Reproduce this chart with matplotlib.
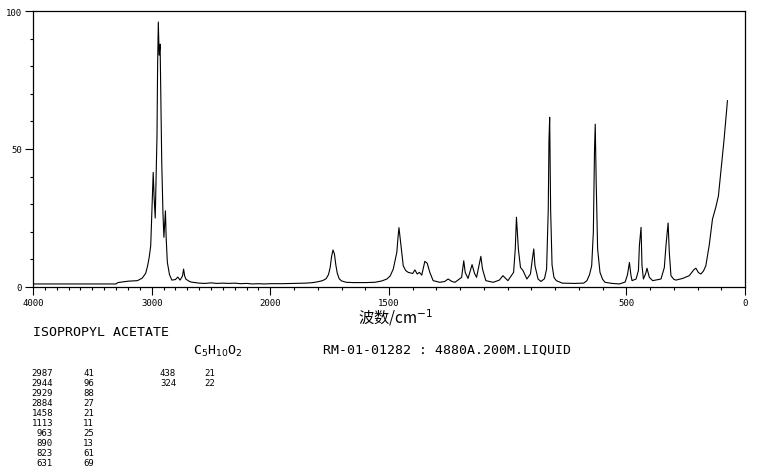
import matplotlib
matplotlib.use('Agg')
import matplotlib.pyplot as plt
import numpy as np

# traced Raman spectrum (wavenumber cm-1, intensity)
wavenumber = [4000, 3700, 3500, 3300, 3285, 3200, 3120, 3080, 3050, 3034, 3020, 3008,
              2994, 2987, 2980, 2970, 2963, 2955, 2950, 2944, 2937, 2929, 2922, 2915,
              2905, 2897, 2890, 2884, 2878, 2868, 2850, 2830, 2800, 2780, 2760, 2740,
              2731, 2722, 2712, 2690, 2669, 2600, 2550, 2500, 2450, 2400, 2350, 2300,
              2250, 2200, 2150, 2100, 2050, 2000, 1950, 1900, 1850, 1820, 1800, 1780,
              1765, 1755, 1748, 1742, 1736, 1730, 1724, 1718, 1710, 1700, 1680, 1650,
              1600, 1560, 1530, 1509, 1495, 1482, 1467, 1462, 1458, 1452, 1449, 1440,
              1430, 1419, 1400, 1391, 1381, 1372, 1362, 1349, 1339, 1328, 1314, 1286,
              1265, 1251, 1235, 1222, 1194, 1185, 1179, 1167, 1150, 1140, 1131, 1113,
              1106, 1092, 1061, 1035, 1020, 999, 975, 968, 963, 955, 946, 935,
              919, 904, 896, 890, 885, 872, 860, 845, 836, 829, 826, 823,
              819, 813, 805, 795, 770, 720, 680, 666, 655, 646, 639, 634,
              631, 627, 621, 611, 600, 590, 560, 529, 505, 495, 487, 481,
              476, 459, 449, 445, 438, 434, 428, 418, 413, 403, 389, 354,
              340, 333, 324, 319, 312, 300, 291, 263, 235, 215, 207, 196,
              186, 175, 165, 151, 137, 123, 112, 102, 88, 74]
intensity = [1.1, 1.1, 1.1, 1.1, 1.6, 2.1, 2.3, 3.2, 5.0, 7.7, 11, 15,
             32, 41.5, 33, 25, 39, 55, 80, 96, 84, 88, 66, 45,
             27, 18, 23, 27.6, 18, 9, 4.5, 2.5, 2.7, 3.6, 2.5, 4,
             6.5, 4, 2.9, 2.2, 1.8, 1.4, 1.3, 1.5, 1.3, 1.4, 1.3, 1.4,
             1.2, 1.3, 1.1, 1.2, 1.1, 1.2, 1.2, 1.3, 1.4, 1.6, 1.9, 2.3,
             3, 4.5, 7, 11, 13.4, 12, 8, 5, 3, 2.2, 1.7, 1.6,
             1.6, 1.7, 2.2, 2.9, 4, 6.5, 12.6, 18, 21.5, 17, 15, 7.7,
             6, 5.3, 4.9, 6.2, 4.7, 5.3, 4.3, 9.3, 8.6, 5.3, 2.3, 1.7,
             2.0, 2.9, 2.0, 1.7, 3.5, 9.5, 5.3, 3.1, 8.1, 5, 3.5, 11.1,
             6.5, 2.3, 1.7, 2.5, 4.1, 2.3, 5.3, 13.8, 25.3, 13.8, 7.1, 5.9,
             2.9, 4.7, 10.1, 13.8, 7.7, 2.9, 2.0, 3.0, 6.5, 28, 53, 61.5,
             28, 8, 3.5, 2.3, 1.4, 1.3, 1.4, 2.3, 4.5, 7.7, 19.8, 50,
             59, 38, 13.8, 5.3, 2.8, 1.7, 1.3, 1.1, 1.8, 4.5, 8.9, 4.5,
             2.3, 2.9, 6, 15, 21.6, 7.7, 2.9, 5, 6.8, 3.5, 2.3, 2.9,
             7, 15, 23.2, 12.6, 4.1, 2.8, 2.5, 3.1, 4.1, 6.3, 6.8, 5.2,
             4.7, 5.8, 7.7, 15, 24.6, 28.9, 33, 41.5, 53.6, 67.5]

peak_pos = [2987, 2944, 2929, 2884, 1458, 1113, 963, 890, 823, 631, 438, 324]
peak_int = [41, 96, 88, 27, 21, 11, 25, 13, 61, 69, 21, 22]

x_major = [4000, 3000, 2000, 1500, 500, 0]
x_labels = ['4000', '3000', '2000', '1500', '500', '0']
y_major = [0, 50, 100]


# wavenumbers above 2000 are drawn at half scale
def fwd(x):
    x = np.asarray(x, dtype=float)
    return np.where(x > 2000, 2000 + (x - 2000) / 2, x)


def inv(u):
    u = np.asarray(u, dtype=float)
    return np.where(u > 2000, 2000 + (u - 2000) * 2, u)


W, H = 761, 477
fig = plt.figure(figsize=(W / 100, H / 100), dpi=100)
ax = fig.add_axes([33 / W, 1 - 288 / H, (745 - 33) / W, (288 - 12) / H])

ax.plot(wavenumber, intensity, color='black', lw=0.8)

ax.set_xscale('function', functions=(fwd, inv))
ax.set_xlim(4000, 0)
ax.set_ylim(0, 100)

mono = 'DejaVu Sans Mono'
ax.set_xticks(x_major)
ax.set_xticklabels(x_labels, fontsize=6.5, family=mono)
ax.set_xticks(np.arange(0, 4001, 100), minor=True)
ax.set_yticks(y_major)
ax.set_yticklabels([str(v) for v in y_major], fontsize=6.5, family=mono)
ax.set_yticks(np.arange(0, 101, 10), minor=True)
ax.tick_params(axis='both', which='major', direction='out', length=6, width=0.8, pad=2)
ax.tick_params(axis='both', which='minor', direction='out', length=2.5, width=0.8)

for s in ax.spines.values():
    s.set_linewidth(0.9)

fig.text(396 / W, 1 - 318 / H, '波数/cm$^{-1}$', ha='center', va='center',
         fontsize=11, family=['Noto Sans CJK SC', 'DejaVu Sans'])

fig.text(33 / W, 1 - 332 / H, 'ISOPROPYL ACETATE', ha='left', va='center',
         fontsize=9.5, family=mono)
fig.text(193 / W, 1 - 351 / H, r'C$_5$H$_{10}$O$_2$', ha='left', va='center',
         fontsize=9.5, family=mono)
fig.text(323 / W, 1 - 350 / H, 'RM-01-01282 : 4880A.200M.LIQUID', ha='left',
         va='center', fontsize=9.5, family=mono)

# peak table, two columns of positions/intensities
for i, (p, v) in enumerate(zip(peak_pos, peak_int)):
    col = i // 10
    row = i % 10
    y = 1 - (374 + row * 9.9) / H
    x0 = 53 if col == 0 else 176
    x1 = 83 if col == 0 else 204
    fig.text(x0 / W, y, str(p), ha='right', va='center', fontsize=6.5, family=mono)
    fig.text(x1 / W, y, str(v), ha='left', va='center', fontsize=6.5, family=mono)

fig.savefig('out.png', dpi=100)
